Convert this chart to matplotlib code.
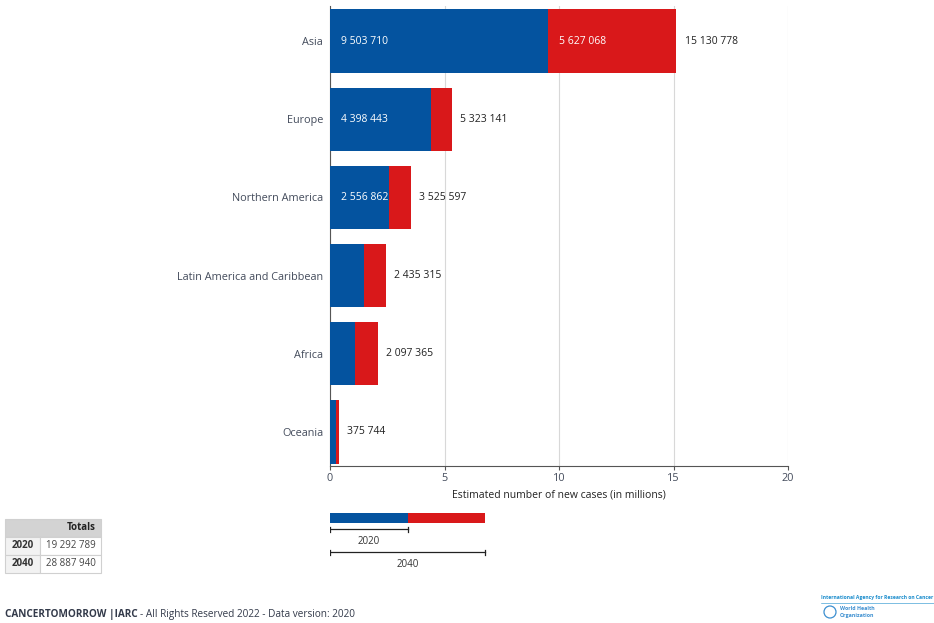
import matplotlib.pyplot as plt
from matplotlib.patches import Rectangle, Circle

plt.rcParams['font.family'] = ['Open Sans', 'DejaVu Sans']

# data
regions = ['Asia', 'Europe', 'Northern America', 'Latin America and Caribbean', 'Africa', 'Oceania']
cases_2020 = [9503710, 4398443, 2556862, 1470274, 1109209, 254291]
cases_2040 = [15130778, 5323141, 3525597, 2435315, 2097365, 375744]
show_2020_label = [True, True, True, False, False, False]
show_diff_label = [True, False, False, False, False, False]
total_2020 = '19 292 789'
total_2040 = '28 887 940'

BLUE = '#04539f'
RED = '#d9181a'
W, H = 934, 623


def fmt(v):
    return '{:,}'.format(v).replace(',', ' ')


fig = plt.figure(figsize=(W / 100, H / 100), dpi=100)

# main chart
ax = fig.add_axes([330 / W, 1 - 466 / H, 458 / W, 460 / H])
m2020 = [v / 1e6 for v in cases_2020]
mdiff = [(b - a) / 1e6 for a, b in zip(cases_2020, cases_2040)]
ypos = list(range(len(regions)))
ax.barh(ypos, m2020, height=0.81, color=BLUE, zorder=3)
ax.barh(ypos, mdiff, left=m2020, height=0.81, color=RED, zorder=3)

for i in ypos:
    if show_2020_label[i]:
        ax.annotate(fmt(cases_2020[i]), (0, i), xytext=(8, 0), textcoords='offset points',
                    va='center', ha='left', color='white', fontsize=7.5, zorder=4)
    if show_diff_label[i]:
        ax.annotate(fmt(cases_2040[i] - cases_2020[i]), (m2020[i], i), xytext=(8, 0),
                    textcoords='offset points', va='center', ha='left', color='white',
                    fontsize=7.5, zorder=4)
    ax.annotate(fmt(cases_2040[i]), (cases_2040[i] / 1e6, i), xytext=(5.8, 0),
                textcoords='offset points', va='center', ha='left', color='#222222',
                fontsize=7.5, zorder=4)

ax.set_xlim(0, 20)
ax.set_ylim(5.435, -0.448)
ax.set_xticks([0, 5, 10, 15, 20])
ax.set_yticks(ypos)
ax.set_yticklabels(regions)
ax.tick_params(axis='y', length=0, pad=5, labelsize=7.8, labelcolor='#444c5c')
ax.tick_params(axis='x', length=3, color='#555555', labelsize=7.8, labelcolor='#444c5c', pad=2)
ax.grid(axis='x', color='#d8d8d8', linewidth=0.8, zorder=0)
for s in ['top', 'right']:
    ax.spines[s].set_visible(False)
for s in ['left', 'bottom']:
    ax.spines[s].set_color('#555555')
    ax.spines[s].set_linewidth(0.8)
ax.set_xlabel('Estimated number of new cases (in millions)', fontsize=7.5,
              color='#222222', labelpad=4)

# legend key (fixed proportions of the key graphic)
key_parts = [78, 77]
lax = fig.add_axes([330 / W, 1 - 570 / H, 160 / W, 58 / H])
lax.set_xlim(0, 160)
lax.set_ylim(58, 0)
lax.axis('off')
lax.barh([5.5], [key_parts[0]], height=10, color=BLUE)
lax.barh([5.5], [key_parts[1]], left=[key_parts[0]], height=10, color=RED)
for y, x1, lbl in [(17, key_parts[0], '2020'), (40, sum(key_parts), '2040')]:
    lax.plot([0, x1], [y, y], color='#222222', lw=0.9)
    lax.plot([0, 0], [y - 2.5, y + 2.5], color='#222222', lw=0.9)
    lax.plot([x1, x1], [y - 2.5, y + 2.5], color='#222222', lw=0.9)
    lax.text(x1 / 2, y + 12.5, lbl, ha='center', va='center', fontsize=7, color='#333333')

# totals table
tax = fig.add_axes([0, 0, 1, 1])
tax.set_xlim(0, W)
tax.set_ylim(H, 0)
tax.axis('off')
edge = '#d0d0d0'
tax.add_patch(Rectangle((5, 519), 96, 18, facecolor='#d3d3d3', edgecolor=edge, lw=0.8))
tax.add_patch(Rectangle((5, 537), 35, 18, facecolor='#f2f2f2', edgecolor=edge, lw=0.8))
tax.add_patch(Rectangle((40, 537), 61, 18, facecolor='white', edgecolor=edge, lw=0.8))
tax.add_patch(Rectangle((5, 555), 35, 18, facecolor='#f2f2f2', edgecolor=edge, lw=0.8))
tax.add_patch(Rectangle((40, 555), 61, 18, facecolor='white', edgecolor=edge, lw=0.8))
tax.text(96, 528, 'Totals', ha='right', va='center', fontsize=7, fontweight='bold', color='#222222')
tax.text(22.5, 546, '2020', ha='center', va='center', fontsize=7, fontweight='bold', color='#333333')
tax.text(22.5, 564, '2040', ha='center', va='center', fontsize=7, fontweight='bold', color='#333333')
tax.text(70.5, 546, total_2020, ha='center', va='center', fontsize=7, color='#444444')
tax.text(70.5, 564, total_2040, ha='center', va='center', fontsize=7, color='#444444')

# footer
t = tax.text(5, 614, 'CANCERTOMORROW |IARC', ha='left', va='center', fontsize=7.2,
             fontweight='bold', color='#333a4a')
fig.canvas.draw()
bb = t.get_window_extent()
tax.text(5 + bb.width + 2, 614, '- All Rights Reserved 2022 - Data version: 2020',
         ha='left', va='center', fontsize=7.2, color='#333a4a')

# logos
tax.text(821, 598, 'International Agency for Research on Cancer', ha='left', va='center',
         fontsize=3.6, fontweight='bold', color='#1a8ccc', clip_on=False)
tax.plot([821, 934], [603, 603], color='#1a8ccc', lw=0.4)
tax.add_patch(Circle((830, 612), 6, facecolor='none', edgecolor='#3c8fd0', lw=0.9))
tax.text(840, 609, 'World Health', ha='left', va='center', fontsize=3.8,
         fontweight='bold', color='#3c8fd0')
tax.text(840, 616, 'Organization', ha='left', va='center', fontsize=3.8,
         fontweight='bold', color='#3c8fd0')

fig.savefig('out.png', dpi=100)
